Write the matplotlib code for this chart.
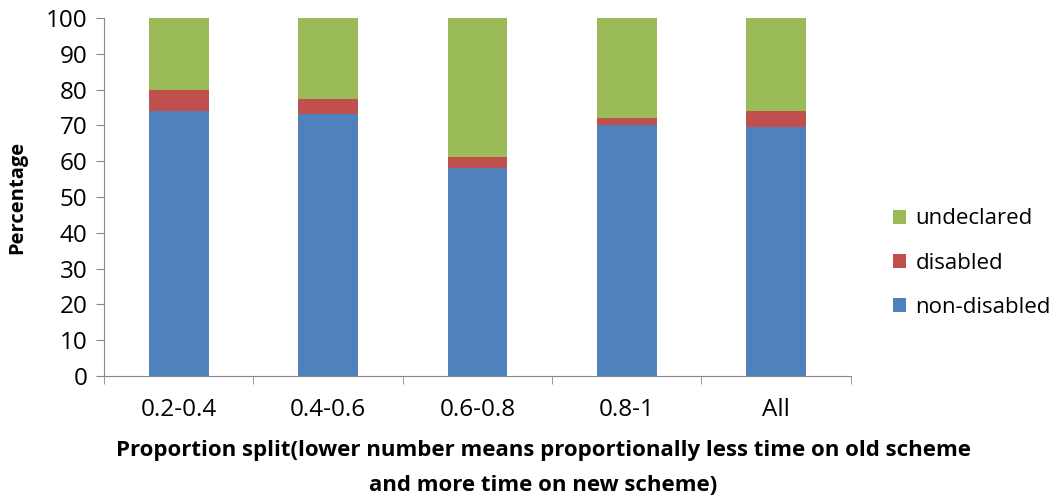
import matplotlib.pyplot as plt
import numpy as np

categories = ["0.2-0.4", "0.4-0.6", "0.6-0.8", "0.8-1", "All"]
non_disabled = [74.0, 73.3, 58.1, 70.0, 69.6]
disabled = [6.0, 4.2, 3.0, 2.0, 4.3]
undeclared = [100 - a - b for a, b in zip(non_disabled, disabled)]

plt.rcParams["font.family"] = ["Open Sans", "DejaVu Sans"]

fig = plt.figure(figsize=(10.62, 5), dpi=100)
ax = fig.add_axes([0.098, 0.248, 0.703, 0.716])

x = np.arange(len(categories))
w = 0.4
b1 = ax.bar(x, non_disabled, w, color="#4F81BD", label="non-disabled")
b2 = ax.bar(x, disabled, w, bottom=non_disabled, color="#C0504D", label="disabled")
bottom3 = [a + b for a, b in zip(non_disabled, disabled)]
b3 = ax.bar(x, undeclared, w, bottom=bottom3, color="#9BBB59", label="undeclared")

ax.set_xlim(-0.5, len(categories) - 0.5)
ax.set_ylim(0, 100)
ax.set_yticks(range(0, 101, 10))
ax.set_xticks(x)
ax.set_xticklabels(categories)
ax.set_xticks(np.arange(-0.5, len(categories), 1), minor=True)
ax.tick_params(axis="x", which="major", length=0, pad=16, labelsize=17.5)
ax.tick_params(axis="x", which="minor", length=6, color="#888888")
ax.tick_params(axis="y", length=6, color="#888888", labelsize=17.5, pad=6)
for s in ["top", "right"]:
    ax.spines[s].set_visible(False)
for s in ["left", "bottom"]:
    ax.spines[s].set_color("#888888")

ax.set_ylabel("Percentage", fontsize=14.5, fontweight="bold", labelpad=13)
ax.set_xlabel("Proportion split(lower number means proportionally less time on old scheme\nand more time on new scheme)",
              fontsize=16, fontweight="bold", linespacing=1.85)
ax.xaxis.set_label_coords(0.588, -0.18, transform=ax.transAxes)

ax.legend(handles=[b3, b2, b1], loc="center left", bbox_to_anchor=(1.03, 0.315),
          frameon=False, fontsize=16, handlelength=0.6, handleheight=0.6,
          labelspacing=1.05, handletextpad=0.4)

fig.savefig("out.png", dpi=100)
